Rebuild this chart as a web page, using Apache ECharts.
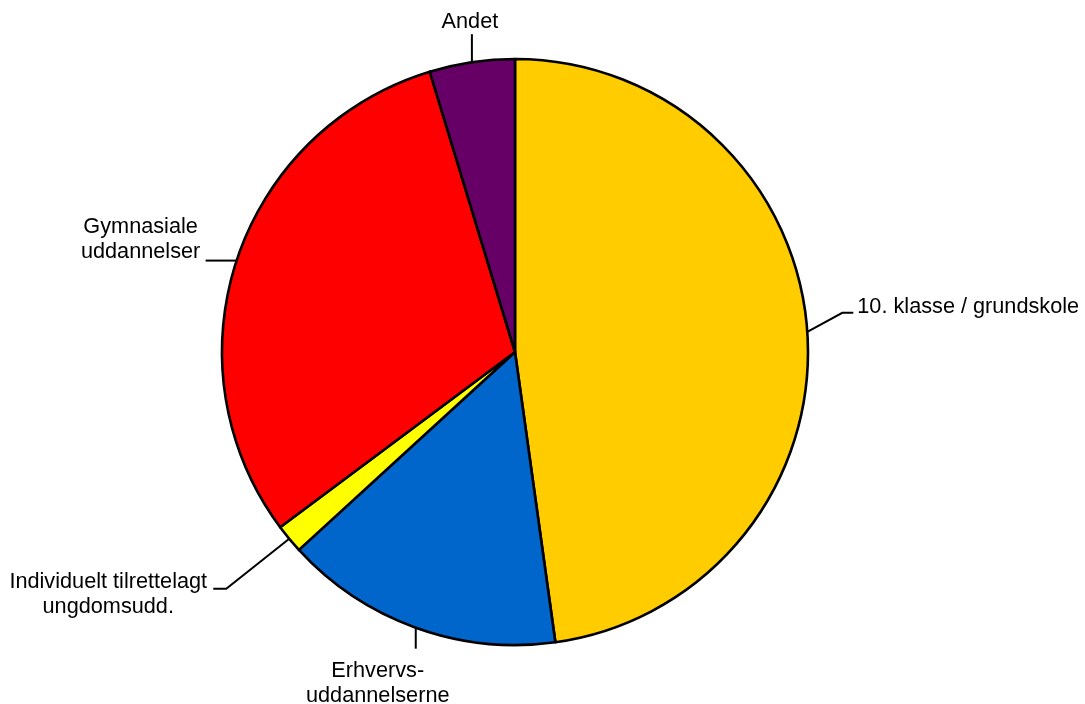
<!DOCTYPE html>
<html>
<head>
<meta charset="utf-8">
<script src="https://cdn.jsdelivr.net/npm/echarts@6/dist/echarts.min.js"></script>
<style>
html,body{margin:0;padding:0;background:#fff;}
#chart{width:1085px;height:704px;}
</style>
</head>
<body>
<div id="chart"></div>
<script>
// ---- data ----
const categories = [
  '10. klasse / grundskole',
  'Erhvervs-\nuddannelserne',
  'Individuelt tilrettelagt\nungdomsudd.',
  'Gymnasiale\nuddannelser',
  'Andet'
];
const values = [47.8, 15.4, 1.6, 30.5, 4.7];
const colors = ['#FFCC00', '#0066CC', '#FFFF00', '#FF0000', '#660066'];

// ---- label placement (offsets from the leader-line start on the pie edge) ----
const labelPlacement = [
  { bend: [35, -19], end: [46, -19], text: [50, -25], align: 'left',   vAlign: 'middle' },
  { bend: [0, 21],   end: [0, 21],   text: [-38, 31], align: 'center', vAlign: 'top' },
  { bend: [-63, 50], end: [-76, 50], text: [-181, 56], align: 'center', vAlign: 'middle' },
  { bend: [-20, 0],  end: [-31, 0],  text: [-96, -21], align: 'center', vAlign: 'middle' },
  { bend: [0, -28],  end: [0, -28],  text: [-2, -40], align: 'center', vAlign: 'middle' }
];

const chart = echarts.init(document.getElementById('chart'), null, { renderer: 'canvas' });

const option = {
  animation: false,
  backgroundColor: '#ffffff',
  series: [{
    type: 'pie',
    center: [515, 352],
    radius: 293,
    startAngle: 90,
    clockwise: true,
    avoidLabelOverlap: false,
    emphasis: { disabled: true },
    itemStyle: { borderColor: '#000000', borderWidth: 2.6 },
    label: {
      show: true,
      position: 'outside',
      color: '#000000',
      fontFamily: 'Liberation Sans, Arial, sans-serif',
      fontSize: 21.7,
      lineHeight: 25,
      formatter: '{b}'
    },
    labelLine: {
      show: true,
      length: 20,
      length2: 10,
      smooth: false,
      lineStyle: { color: '#000000', width: 2 }
    },
    labelLayout: function (params) {
      const p = labelPlacement[params.dataIndex];
      const pts = params.labelLinePoints;
      if (!p || !pts) return {};
      const p0 = pts[0];
      return {
        x: p0[0] + p.text[0],
        y: p0[1] + p.text[1],
        align: p.align,
        verticalAlign: p.vAlign,
        labelLinePoints: [
          [p0[0], p0[1]],
          [p0[0] + p.bend[0], p0[1] + p.bend[1]],
          [p0[0] + p.end[0], p0[1] + p.end[1]]
        ]
      };
    },
    data: categories.map((name, i) => ({
      name: name,
      value: values[i],
      itemStyle: { color: colors[i] }
    }))
  }]
};

chart.setOption(option);
</script>
</body>
</html>
